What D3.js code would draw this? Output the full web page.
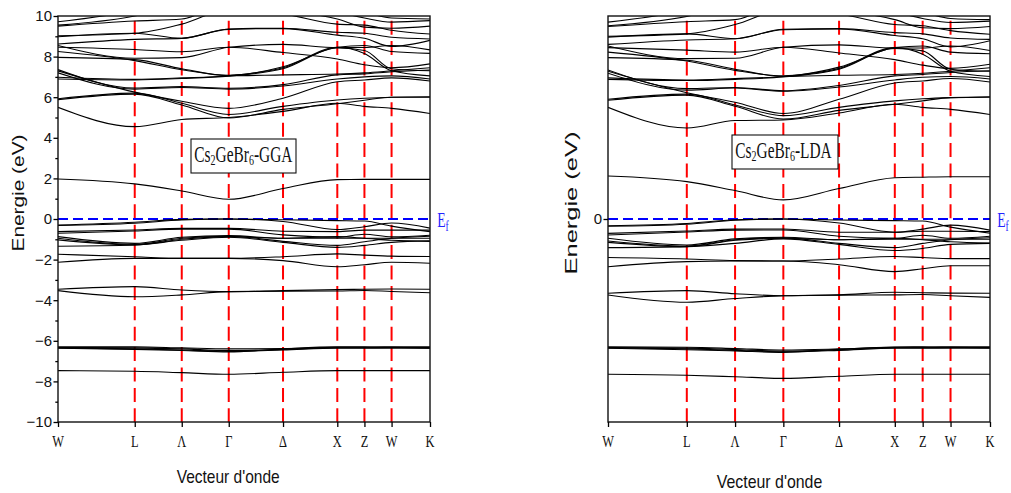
<!DOCTYPE html>
<html>
<head>
<meta charset="utf-8">
<script src="https://cdn.jsdelivr.net/npm/d3@7"></script>
<style>
  body { margin: 0; background: #fff; }
  svg { display: block; }
</style>
</head>
<body>
<script>
// k-path (units of 2pi/a) and its labels
const kLabels = ["W", "L", "Λ", "Γ", "Δ", "X", "Z", "W", "K"];
const kPos = [0, 0.707, 1.140, 1.573, 2.073, 2.573, 2.823, 3.073, 3.427];
const yMajor = [-10, -8, -6, -4, -2, 0, 2, 4, 6, 8, 10];
const yMinor = [-9, -7, -5, -3, -1, 1, 3, 5, 7, 9];

// ---- GGA bands, energies (eV) at W L Λ Γ Δ X Z W K ----
const ggaConduction = [
  [5.50, 4.55, 4.90, 5.00, 5.30, 5.70, 5.55, 5.45, 5.20],
  [5.88, 6.15, 5.62, 4.98, 5.40, 5.68, 5.85, 6.00, 6.00],
  [5.92, 6.20, 5.70, 5.15, 5.55, 5.86, 5.95, 6.00, 6.02],
  [7.30, 6.25, 5.80, 5.45, 5.95, 6.76, 6.85, 6.95, 6.80],
  [7.20, 6.40, 6.48, 6.40, 6.55, 6.90, 7.00, 7.05, 6.90],
  [7.36, 6.45, 6.52, 6.44, 6.62, 7.10, 7.15, 7.25, 7.34],
  [6.90, 6.85, 6.92, 7.04, 7.40, 8.42, 8.30, 7.40, 7.30],
  [6.98, 6.88, 6.95, 7.06, 7.45, 8.46, 8.15, 7.30, 7.05],
  [7.96, 7.85, 7.40, 7.06, 7.10, 7.14, 7.20, 7.30, 7.45],
  [8.25, 7.80, 7.35, 7.08, 7.50, 8.46, 8.55, 8.25, 8.16],
  [8.46, 8.35, 8.24, 8.46, 8.20, 7.88, 7.60, 7.45, 7.64],
  [8.55, 7.92, 7.95, 8.46, 8.60, 8.45, 8.45, 8.55, 8.33],
  [8.62, 8.85, 8.90, 9.34, 9.38, 9.06, 8.90, 8.50, 8.80],
  [8.98, 9.15, 8.90, 9.36, 9.40, 9.20, 9.15, 8.95, 8.87],
  [9.03, 9.15, 9.60, 10.3, 10.1, 9.60, 9.55, 9.30, 9.11],
  [9.50, 9.75, 9.85, 10.6, 10.3, 9.85, 9.45, 9.40, 9.50],
  [9.55, 10.0, 10.6, 11.0, 10.8, 10.2, 9.90, 9.70, 9.77],
  [9.72, 10.3, 11.0, 11.4, 11.2, 10.6, 10.2, 9.90, 9.85]
];
const ggaGap = [1.97, 1.73, 1.38, 0.97, 1.50, 1.94, 1.95, 1.95, 1.95];
const ggaValence = [
  [-0.30, -0.16, -0.02, 0.00, -0.12, -0.52, -0.38, -0.20, -0.45],
  [-0.32, -0.21, -0.05, 0.00, -0.04, -0.08, -0.10, -0.35, -0.62],
  [-0.62, -0.54, -0.46, -0.46, -0.60, -0.62, -0.55, -0.55, -0.55],
  [-0.70, -0.59, -0.50, -0.50, -0.78, -0.90, -0.75, -0.88, -0.80],
  [-0.87, -1.20, -0.90, -0.82, -0.95, -0.95, -0.95, -0.95, -0.95],
  [-0.95, -1.25, -0.95, -0.85, -1.10, -1.30, -1.12, -0.95, -0.85],
  [-1.03, -1.28, -1.00, -0.87, -0.95, -0.87, -0.95, -1.05, -1.10],
  [-1.34, -1.28, -1.05, -0.90, -1.15, -1.40, -1.30, -1.15, -1.08],
  [-1.74, -1.86, -1.94, -1.94, -1.86, -1.72, -1.78, -1.83, -1.85],
  [-2.13, -1.94, -1.94, -1.94, -2.05, -2.35, -2.25, -2.13, -2.18]
];
const ggaDeep = [
  [-3.46, -3.33, -3.50, -3.58, -3.53, -3.48, -3.46, -3.45, -3.46],
  [-3.53, -3.83, -3.74, -3.58, -3.56, -3.55, -3.52, -3.57, -3.63],
  [-6.30, -6.30, -6.35, -6.40, -6.38, -6.32, -6.32, -6.30, -6.30],
  [-6.33, -6.35, -6.40, -6.48, -6.42, -6.34, -6.34, -6.33, -6.33],
  [-6.35, -6.40, -6.45, -6.52, -6.45, -6.36, -6.36, -6.36, -6.37],
  [-6.37, -6.42, -6.48, -6.55, -6.40, -6.30, -6.30, -6.32, -6.36],
  [-7.47, -7.50, -7.57, -7.65, -7.55, -7.47, -7.47, -7.47, -7.47]
];

// ---- LDA bands ----
const ldaConduction = [
  [5.50, 4.48, 4.85, 4.88, 5.22, 5.65, 5.50, 5.40, 5.15],
  [5.85, 6.10, 5.55, 4.92, 5.35, 5.65, 5.82, 5.98, 6.00],
  [5.90, 6.15, 5.62, 5.09, 5.50, 5.82, 5.92, 5.98, 6.02],
  [7.28, 6.22, 5.75, 5.20, 5.90, 6.70, 6.80, 6.92, 6.75],
  [7.18, 6.35, 6.45, 6.29, 6.50, 6.85, 6.98, 7.02, 6.90],
  [7.34, 6.42, 6.48, 6.32, 6.58, 7.05, 7.12, 7.22, 7.30],
  [6.88, 6.82, 6.88, 7.00, 7.38, 8.40, 8.28, 7.38, 7.28],
  [6.95, 6.85, 6.92, 7.02, 7.42, 8.44, 8.12, 7.28, 7.02],
  [7.95, 7.82, 7.38, 7.02, 7.08, 7.12, 7.18, 7.28, 7.45],
  [8.22, 7.78, 7.32, 7.05, 7.48, 8.44, 8.52, 8.22, 8.14],
  [8.44, 8.32, 8.22, 8.46, 8.18, 7.85, 7.58, 7.42, 7.62],
  [8.52, 7.90, 7.92, 8.46, 8.58, 8.42, 8.42, 8.52, 8.30],
  [8.60, 8.82, 8.88, 9.32, 9.36, 9.04, 8.88, 8.48, 8.78],
  [8.96, 9.12, 8.88, 9.35, 9.38, 9.18, 9.12, 8.92, 8.85],
  [9.00, 9.12, 9.58, 10.3, 10.1, 9.58, 9.52, 9.28, 9.10],
  [9.48, 9.72, 9.82, 10.6, 10.3, 9.82, 9.42, 9.38, 9.48],
  [9.52, 9.98, 10.6, 11.0, 10.8, 10.2, 9.88, 9.68, 9.75],
  [9.70, 10.3, 11.0, 11.4, 11.2, 10.6, 10.2, 9.88, 9.82]
];
const ldaGap = [2.12, 1.84, 1.40, 0.94, 1.50, 2.03, 2.06, 2.08, 2.08];
const ldaValence = [
  [-0.33, -0.22, -0.04, 0.00, -0.20, -0.65, -0.50, -0.30, -0.55],
  [-0.36, -0.26, -0.06, 0.00, -0.05, -0.08, -0.10, -0.40, -0.70],
  [-0.71, -0.59, -0.50, -0.49, -0.65, -0.65, -0.60, -0.60, -0.62],
  [-0.79, -0.64, -0.55, -0.54, -0.85, -0.95, -0.80, -0.95, -0.85],
  [-0.95, -1.28, -0.98, -0.90, -1.02, -1.00, -1.00, -1.00, -1.00],
  [-1.08, -1.33, -1.02, -0.93, -1.20, -1.41, -1.20, -1.02, -0.92],
  [-1.15, -1.36, -1.05, -0.95, -1.02, -0.95, -1.02, -1.12, -1.18],
  [-1.41, -1.36, -1.20, -0.98, -1.25, -1.55, -1.45, -1.25, -1.20],
  [-1.90, -1.97, -2.05, -2.07, -1.97, -1.85, -1.90, -1.95, -1.95],
  [-2.35, -2.10, -2.07, -2.07, -2.25, -2.59, -2.45, -2.30, -2.30]
];
const ldaDeep = [
  [-3.66, -3.53, -3.68, -3.78, -3.74, -3.61, -3.63, -3.65, -3.66],
  [-3.74, -4.10, -3.92, -3.78, -3.75, -3.74, -3.72, -3.78, -3.86],
  [-6.30, -6.32, -6.38, -6.45, -6.40, -6.32, -6.32, -6.30, -6.30],
  [-6.33, -6.36, -6.43, -6.50, -6.44, -6.34, -6.34, -6.33, -6.33],
  [-6.35, -6.40, -6.47, -6.54, -6.47, -6.36, -6.36, -6.36, -6.36],
  [-6.37, -6.44, -6.50, -6.57, -6.42, -6.31, -6.30, -6.32, -6.35],
  [-7.65, -7.70, -7.77, -7.85, -7.75, -7.65, -7.65, -7.65, -7.65]
];

const svg = d3.select("body").append("svg")
    .attr("width", 1011)
    .attr("height", 493);

const sans = "Liberation Sans, Arial, sans-serif";
const serif = "Liberation Serif, Times New Roman, serif";

// text stretched vertically like the source picture
function tallText(g, x, y, sy, size, family) {
  return g.append("text")
      .attr("transform", `translate(${x},${y}) scale(1,${sy})`)
      .attr("font-family", family)
      .attr("font-size", size);
}

function drawPanel(p) {
  const x = d3.scaleLinear().domain([0, kPos[kPos.length - 1]]).range([p.x0, p.x1]);
  const y = d3.scaleLinear().domain([-10, 10]).range([p.y1, p.y0]);
  const g = svg.append("g");

  g.append("clipPath").attr("id", "clip-" + p.id)
    .append("rect")
      .attr("x", p.x0).attr("y", p.y0)
      .attr("width", p.x1 - p.x0).attr("height", p.y1 - p.y0);

  // red dashed high-symmetry lines
  g.selectAll(".kline")
      .data(kPos.slice(1, -1))
    .enter().append("line")
      .attr("x1", d => x(d)).attr("x2", d => x(d))
      .attr("y1", y(10) + 4.7).attr("y2", y(-10))
      .attr("stroke", "#ff0000")
      .attr("stroke-width", 2)
      .attr("stroke-dasharray", "14,6.4");

  // Fermi level
  g.append("line")
      .attr("x1", p.x0).attr("x2", p.x1)
      .attr("y1", y(0)).attr("y2", y(0))
      .attr("stroke", "#0000ff")
      .attr("stroke-width", 2)
      .attr("stroke-dasharray", "10,5");

  const line = d3.line()
      .x((d, i) => x(kPos[i]))
      .y(d => y(d))
      .curve(d3.curveMonotoneX);

  g.append("g").attr("clip-path", `url(#clip-${p.id})`)
    .selectAll("path")
      .data(p.bands)
    .enter().append("path")
      .attr("d", line)
      .attr("fill", "none")
      .attr("stroke", "#000")
      .attr("stroke-width", 1.1);

  // frame
  g.append("rect")
      .attr("x", p.x0).attr("y", p.y0)
      .attr("width", p.x1 - p.x0).attr("height", p.y1 - p.y0)
      .attr("fill", "none")
      .attr("stroke", "#111")
      .attr("stroke-width", 1.4);

  // y axis
  const yAxis = g.append("g")
      .attr("transform", `translate(${p.x0},0)`)
      .call(d3.axisLeft(y).tickValues(p.yTicks).tickSize(4.5).tickSizeOuter(0).tickPadding(1.5));
  yAxis.select(".domain").remove();
  yAxis.selectAll("line").attr("stroke-width", 1.3);
  yAxis.selectAll("text").attr("font-family", sans).attr("font-size", 15).attr("fill", "#111");
  if (p.yMinor.length) {
    const yMin = g.append("g")
        .attr("transform", `translate(${p.x0},0)`)
        .call(d3.axisLeft(y).tickValues(p.yMinor).tickSize(2.7).tickFormat(""));
    yMin.select(".domain").remove();
    yMin.selectAll("line").attr("stroke-width", 1.3);
  }

  // x axis ticks + serif labels
  const xAxis = g.append("g")
      .attr("transform", `translate(0,${p.y1})`)
      .call(d3.axisBottom(x).tickValues(kPos).tickSize(5).tickSizeOuter(0).tickFormat(""));
  xAxis.select(".domain").remove();
  xAxis.selectAll("line").attr("stroke-width", 1.3);

  kLabels.forEach((lab, i) => {
    tallText(g, x(kPos[i]), 447, 1.3, 12.4, serif)
        .attr("text-anchor", "middle")
        .attr("fill", "#111")
        .text(lab);
  });

  // axis titles
  g.append("text")
      .attr("transform", `translate(${p.yTitle[0]},${p.yTitle[1]}) rotate(-90)`)
      .attr("text-anchor", "middle")
      .attr("font-family", sans)
      .attr("font-size", 16.5)
      .attr("textLength", p.yTitle[2])
      .attr("lengthAdjust", "spacingAndGlyphs")
      .attr("fill", "#111")
      .text("Energie (eV)");

  g.append("text")
      .attr("x", p.xTitle[0]).attr("y", p.xTitle[1])
      .attr("font-family", sans)
      .attr("font-size", 19)
      .attr("textLength", p.xTitle[2])
      .attr("lengthAdjust", "spacingAndGlyphs")
      .attr("fill", "#111")
      .text("Vecteur d'onde");

  // Ef label
  const ef = tallText(g, p.x1 + 7.3, y(0) + 8, 1.55, 13.6, serif).attr("fill", "#2222ff");
  ef.append("tspan").text("E");
  ef.append("tspan").attr("font-size", 9.5).attr("dy", 2.8).text("f");

  // annotation box
  g.append("rect")
      .attr("x", p.box[0]).attr("y", p.box[1])
      .attr("width", p.box[2]).attr("height", p.box[3])
      .attr("fill", "#fff")
      .attr("stroke", "#111")
      .attr("stroke-width", 1.1);
  const t = tallText(g, p.box[0] + 3.3, p.box[1] + 22.8, 1.45, 15.4, serif).attr("fill", "#111");
  t.append("tspan").text("Cs");
  t.append("tspan").attr("font-size", 10).attr("dy", 2).text("2");
  t.append("tspan").attr("dy", -2).text("GeBr");
  t.append("tspan").attr("font-size", 10).attr("dy", 2).text("6");
  t.append("tspan").attr("dy", -2).text("-" + p.name);
}

drawPanel({
  id: "gga", name: "GGA",
  x0: 58, x1: 430, y0: 16, y1: 422,
  bands: [...ggaConduction, ggaGap, ...ggaValence, ...ggaDeep],
  yTicks: yMajor, yMinor: yMinor,
  yTitle: [24, 193, 117],
  xTitle: [176.7, 483, 103],
  box: [191, 139, 105, 34]
});

drawPanel({
  id: "lda", name: "LDA",
  x0: 608, x1: 990, y0: 16, y1: 422,
  bands: [...ldaConduction, ldaGap, ...ldaValence, ...ldaDeep],
  yTicks: [0], yMinor: [],
  yTitle: [577, 203, 143],
  xTitle: [716.7, 488, 105.6],
  box: [732, 135, 106, 34]
});
</script>
</body>
</html>
